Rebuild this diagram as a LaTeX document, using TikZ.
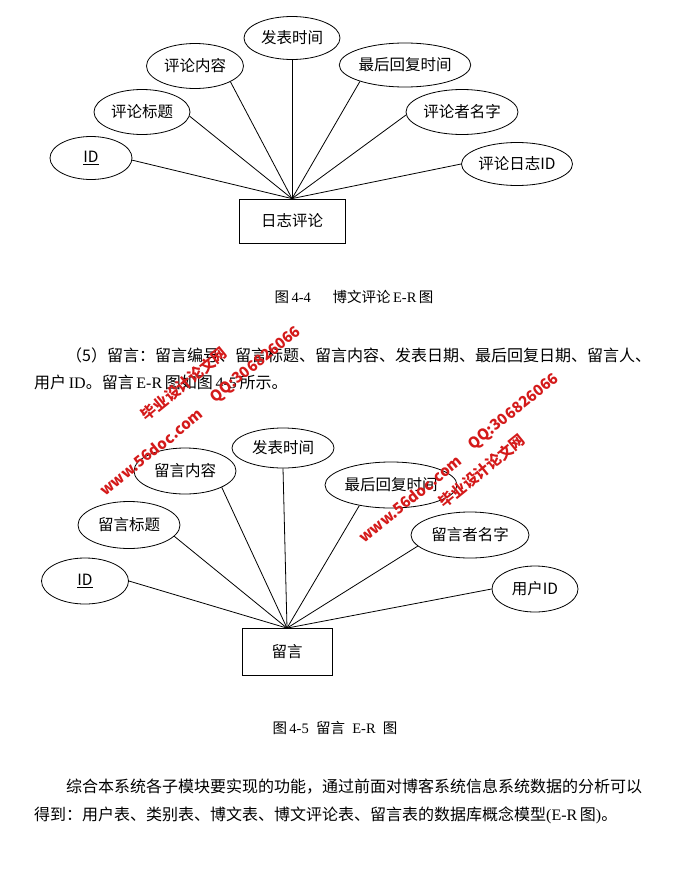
\documentclass[tikz,border=0pt]{standalone}
\usepackage{fontspec}
\setmainfont{Liberation Serif}
\newfontfamily\cjk{Noto Sans CJK SC}
\usepackage{tikz}
\usetikzlibrary{shapes.geometric}
\definecolor{wmred}{RGB}{212,26,26}

\begin{document}
\begin{tikzpicture}[
  x=1pt, y=-1pt,
  attr/.style={draw,ellipse,inner sep=0pt,line width=0.8pt,font=\cjk\fontsize{15.5}{18}\selectfont},
  ent/.style={draw,rectangle,inner sep=0pt,line width=0.8pt,font=\cjk\fontsize{15.5}{18}\selectfont},
  ln/.style={line width=0.8pt},
  figcap/.style={font=\fontsize{14.5}{17}\selectfont,inner sep=0pt},
  para/.style={font=\fontsize{16}{19}\selectfont,anchor=west,inner sep=0pt},
  wm/.style={wmred,font=\cjk\bfseries\fontsize{15}{18}\selectfont,rotate=39,inner sep=0pt}
]
\useasboundingbox (0,0) rectangle (676,886);

% ---------------- figure 4-4: blog comment ----------------
\node[ent,minimum width=106,minimum height=44] (plog) at (292,221) {日志评论};
\node[attr,minimum width=96,minimum height=43]  (ptime)  at (292,38)  {发表时间};
\node[attr,minimum width=97,minimum height=45]  (pbody)  at (195,66)  {评论内容};
\node[attr,minimum width=127,minimum height=44] (preply) at (405,65)  {最后回复时间};
\node[attr,minimum width=96,minimum height=45]  (ptitle) at (142,112) {评论标题};
\node[attr,minimum width=112,minimum height=45] (pname)  at (462,112) {评论者名字};
\node[attr,minimum width=82,minimum height=43]  (pid)    at (91,158)  {\underline{ID}};
\node[attr,minimum width=111,minimum height=43] (plogid) at (517,164) {评论日志ID};
\draw[ln] (plog.north) -- (pid.-3);
\draw[ln] (plog.north) -- (ptitle.-5);
\draw[ln] (plog.north) -- (pbody.-24);
\draw[ln] (plog.north) -- (ptime.south);
\draw[ln] (plog.north) -- (preply.-160);
\draw[ln] (plog.north) -- (pname.-177);
\draw[ln] (plog.north) -- (plogid.180);
\node[figcap] (cap1) at (354,297) {{\cjk 图}\,4-4\quad\enspace{\cjk 博文评论}\,E-R\,{\cjk 图}};

% ---------------- text between the figures ----------------
\node[para] (pa1) at (66,355) {\cjk （5）留言：留言编号、留言标题、留言内容、发表日期、最后回复日期、留言人、};
\node[para] (pa2) at (34,382) {{\cjk 用户}\,ID{\cjk 。留言}\,E-R\,{\cjk 图如图}\,4-5\,{\cjk 所示。}};

% ---------------- figure 4-5: message ----------------
\node[ent,minimum width=90,minimum height=47] (msg) at (287,652) {留言};
\node[attr,minimum width=102,minimum height=40] (mtime)  at (283,448) {发表时间};
\node[attr,minimum width=102,minimum height=46] (mbody)  at (185,471) {留言内容};
\node[attr,minimum width=132,minimum height=46] (mreply) at (391,485) {最后回复时间};
\node[attr,minimum width=102,minimum height=47] (mtitle) at (129,525) {留言标题};
\node[attr,minimum width=118,minimum height=46] (mname)  at (470,535) {留言者名字};
\node[attr,minimum width=87,minimum height=46]  (mid)    at (85,581)  {\underline{ID}};
\node[attr,minimum width=86,minimum height=46]  (muser)  at (535,589) {用户ID};
\draw[ln] (msg.north) -- (mid.0);
\draw[ln] (msg.north) -- (mtitle.-14);
\draw[ln] (msg.north) -- (mbody.-24);
\draw[ln] (msg.north) -- (mtime.south);
\draw[ln] (msg.north) -- (mreply.-147);
\draw[ln] (msg.north) -- (mname.-168);
\draw[ln] (msg.north) -- (muser.180);
\node[figcap] (cap2) at (335,728) {{\cjk 图}\,4-5\enspace{\cjk 留言}\enspace E-R\enspace{\cjk 图}};

% ---------------- closing paragraph ----------------
\node[para] (pb1) at (66,787) {\cjk 综合本系统各子模块要实现的功能，通过前面对博客系统信息系统数据的分析可以};
\node[para] (pb2) at (34,815) {{\cjk 得到：用户表、类别表、博文表、博文评论表、留言表的数据库概念模型}(E-R\,{\cjk 图}){\cjk 。}};

% ---------------- watermarks ----------------
\node[wm] (wa1) at (184,384) {毕业设计论文网};
\node[wm] (wa2) at (151,452) {www.56doc.com};
\node[wm] (wa3) at (256,365) {QQ:306826066};
\node[wm] (wb1) at (514,412) {QQ:306826066};
\node[wm] (wb2) at (482,471) {毕业设计论文网};
\node[wm] (wb3) at (410,499) {www.56doc.com};
\end{tikzpicture}
\end{document}
